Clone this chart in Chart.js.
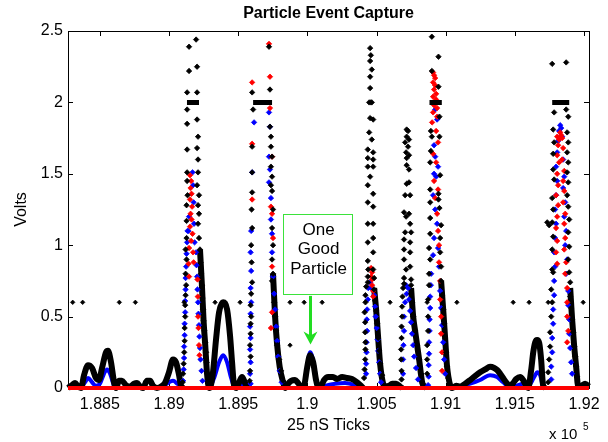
<!DOCTYPE html>
<html>
<head>
<meta charset="utf-8">
<script src="https://cdn.jsdelivr.net/npm/chart.js@4.4.1/dist/chart.umd.min.js"></script>
<style>
  html, body { margin: 0; padding: 0; background: #fff; }
  #wrap { width: 608px; height: 442px; }
</style>
</head>
<body>
<div id="wrap"><canvas id="c" width="608" height="442"></canvas></div>
<script>
// ── Axis setup ───────────────────────────────────────────────
const X_MIN = 188270, X_MAX = 192036;
const xTickVals = [188500, 189000, 189500, 190000, 190500, 191000, 191500, 192000];
const yTickVals = [0, 0.5, 1, 1.5, 2, 2.5];

// ── Low level trace + dense trailing flanks, split at the spikes ──
const blackLowSegs = [
  [[188270,0],[188299,0.02],[188321,0.035],[188342,0.01],[188364,0],[188386,0.09],[188415,0.16],[188444,0.14],
   [188472,0.07],[188494,0.056],[188516,0.14],[188545,0.25],[188559,0.26],[188581,0.18],[188603,0.04],[188617,0],
   [188639,0.05],[188660,0.05],[188689,0.02],[188718,0.01],[188747,0.03],[188769,0.035],[188791,0.01],[188812,0],
   [188841,0.05],[188863,0.05],[188884,0.015],[188913,0],[188949,0.015],[188971,0.035],[189000,0.11],[189029,0.2],
   [189051,0.18],[189073,0.09],[189087,0.015],[189102,0]],
  [[189224,0.97],[189238,0.72],[189250,0.47],[189262,0.3],[189275,0.1],[189290,0],[189300,0.01],[189318,0.11],
   [189340,0.34],[189362,0.53],[189391,0.6],[189420,0.55],[189441,0.37],[189456,0.18],[189470,0.02],[189485,0],
   [189507,0.04],[189528,0.077],[189550,0.035],[189572,0]],
  [[189752,0.8],[189767,0.5],[189782,0.3],[189800,0.15],[189825,0.04],[189839,0],[189861,0.03],[189883,0.05],
   [189911,0.056],[189933,0.035],[189955,0.01],[189977,0.02],[189998,0.14],[190020,0.23],[190042,0.18],
   [190063,0.056],[190078,0.01],[190100,0.015],[190121,0.056],[190150,0.077],[190186,0.077],[190215,0.063],
   [190252,0.077],[190287,0.07],[190323,0.063],[190360,0.04],[190389,0.015],[190403,0]],
  [[190483,0.7],[190498,0.54],[190512,0.35],[190526,0.17],[190548,0.03],[190562,0.01],[190591,0.015],[190613,0.03],
   [190642,0.03],[190671,0.01],[190685,0]],
  [[190750,0.7],[190765,0.5],[190779,0.4],[190808,0.2],[190830,0.04],[190845,0.01],[190859,0]],
  [[190967,0.75],[190982,0.55],[190996,0.35],[191010,0.15],[191032,0.02],[191047,0],[191076,0.015],[191104,0.01],
   [191141,0.03],[191177,0.056],[191213,0.084],[191249,0.11],[191285,0.13],[191321,0.148],[191351,0.14],
   [191372,0.126],[191394,0.1],[191415,0.07],[191445,0.03],[191466,0.01],[191488,0.035],[191510,0.063],
   [191538,0.077],[191560,0.056],[191582,0.015],[191596,0],[191618,0.126],[191633,0.25],[191647,0.32],
   [191661,0.336],[191676,0.315],[191690,0.2],[191704,0.02],[191719,0]],
  [[191900,0.7],[191914,0.48],[191929,0.29],[191943,0.15],[191958,0.01],[191980,0.015],[192008,0.03],[192036,0.01]]
];

const blueLow = [
  [188270,0.01],[188321,0.02],[188357,0],[188393,0.04],[188415,0.07],[188444,0.04],[188472,0.015],[188501,0.03],
  [188530,0.1],[188552,0.13],[188574,0.1],[188603,0.015],[188625,0],[188950,0],[188985,0.03],[189029,0.05],
  [189060,0.03],[189095,0],[189290,0],[189326,0.07],[189362,0.18],[189391,0.23],[189420,0.18],[189449,0.07],
  [189478,0],[189507,0.015],[189536,0.03],[189572,0],[189840,0],[189948,0],[189977,0.015],[189998,0.14],
  [190020,0.25],[190049,0.16],[190071,0.02],[190092,0],[190128,0.015],[190201,0.03],[190273,0.035],[190345,0.02],
  [190396,0],[191047,0],[191104,0.01],[191177,0.03],[191249,0.056],[191321,0.09],[191372,0.077],[191415,0.04],
  [191459,0.01],[191510,0.015],[191560,0.03],[191596,0.01],[191625,0.05],[191647,0.09],[191661,0.11],[191683,0.09],
  [191704,0.01],[191726,0],[192036,0]
];

const redBase = [[188270,0],[192036,0]];

// saturated (clipped at 2 V) stretches
const satRanges = [[189130,189217],[189608,189745],[190883,190972],[191770,191893]];

// trigger level marks
const threshDots = [
  [188304,0.6],[188376,0.6],[188641,0.6],[188757,0.6],[189109,0.6],[189333,0.6],[189514,0.6],[189875,0.6],
  [189977,0.6],[190107,0.6],[190598,0.6],[190866,0.6],[191081,0.6],[191488,0.6],[191603,0.6],[191741,0.6],
  [191994,0.6],[189875,0.3]
];

// ── Raw samples on the spikes ────────────────────────────────
const blackSpikes = [
  // A
  [189145,2.39],[189145,2.22],[189196,2.44],[189203,2.25],[189203,2.07],[189131,2.07],[189131,1.95],[189131,1.85],
  [189203,1.88],[189210,1.76],[189131,1.67],[189203,1.68],[189210,1.6],[189131,1.51],[189210,1.51],[189131,1.45],
  [189203,1.42],[189134,1.35],[189217,1.35],[189127,1.28],[189210,1.28],[189217,1.22],[189127,1.17],[189210,1.15],
  [189127,1.05],[189217,1.05],[189120,0.97],[189224,0.97],[189127,0.9],[189228,0.88],[189120,0.8],[189231,0.8],
  [189124,0.72],[189238,0.72],[189120,0.65],[189242,0.63],[189117,0.58],[189246,0.55],[189117,0.5],[189250,0.47],
  [189113,0.42],[189256,0.4],[189113,0.33],[189262,0.32],[189110,0.25],[189268,0.25],[189106,0.17],[189272,0.18],
  [189102,0.1],[189098,0.04],
  // B
  [189601,2.07],[189723,2.39],[189730,2.09],[189608,1.95],[189601,1.69],[189601,1.51],[189601,1.37],[189597,1.25],
  [189601,1.12],[189594,1.0],[189597,0.88],[189601,0.74],[189594,0.66],[189590,0.58],[189594,0.5],[189590,0.45],
  [189590,0.38],[189586,0.3],[189590,0.22],[189586,0.12],[189583,0.05],[189730,1.83],[189737,1.76],[189737,1.69],
  [189745,1.62],[189737,1.55],[189745,1.48],[189737,1.42],[189745,1.38],[189752,1.25],[189745,1.12],[189752,1.0],
  [189745,0.9],[189752,0.8],[189745,0.75],[189760,0.6],[189767,0.5],[189775,0.4],[189782,0.3],[189796,0.2],
  [189810,0.12],[189825,0.05],
  // C
  [190454,2.38],[190459,2.33],[190454,2.29],[190466,2.23],[190454,2.18],[190454,2.1],[190454,1.89],[190476,1.88],
  [190447,1.79],[190466,1.74],[190437,1.67],[190476,1.65],[190437,1.61],[190476,1.6],[190437,1.55],[190476,1.55],
  [190454,1.48],[190437,1.42],[190476,1.36],[190437,1.3],[190476,1.27],[190437,1.15],[190476,1.15],[190437,1.02],
  [190476,1.05],[190437,0.89],[190476,0.95],[190440,0.83],[190476,0.83],[190437,0.78],[190483,0.77],[190437,0.74],
  [190447,2.0],[190459,2.0],[190466,2.0],
  [190425,0.71],[190420,0.65],[190420,0.6],[190414,0.53],[190418,0.46],[190418,0.39],[190420,0.32],[190420,0.27],
  [190418,0.2],[190414,0.13],[190410,0.07],[190483,0.69],[190490,0.61],[190498,0.54],[190505,0.45],[190512,0.35],
  [190519,0.26],[190526,0.17],[190541,0.09],
  // D
  [190718,1.81],[190728,1.8],[190718,1.76],[190735,1.74],[190707,1.72],[190728,1.69],[190714,1.65],[190735,1.63],
  [190718,1.61],[190718,1.56],[190735,1.53],[190718,1.43],[190735,1.44],[190707,1.35],[190743,1.35],[190699,1.23],
  [190735,1.22],[190714,1.2],[190743,1.15],[190707,1.09],[190750,1.09],[190699,1.04],[190743,1.02],[190699,0.97],
  [190743,0.95],[190699,0.9],[190743,0.85],[190714,0.83],[190699,0.77],[190750,0.76],[190699,0.73],[190750,0.72],
  [190692,0.7],[190688,0.64],[190685,0.57],[190685,0.5],[190681,0.43],[190681,0.35],[190678,0.27],[190678,0.2],
  [190681,0.12],[190681,0.06],[190750,0.66],[190757,0.6],[190765,0.5],[190779,0.4],[190794,0.3],[190808,0.2],
  [190822,0.1],[190835,0.03],
  // E
  [190900,2.46],[190948,2.32],[190900,2.22],[190948,2.11],[190955,1.9],[190893,1.8],[190900,1.76],[190955,1.76],
  [190893,1.66],[190888,1.58],[190960,1.49],[190888,1.39],[190948,1.36],[190888,1.3],[190948,1.32],[190955,1.26],
  [190888,1.19],[190967,1.14],[190888,1.08],[190960,1.05],[190880,0.98],[190960,0.95],[190888,0.9],[190967,0.85],
  [190880,0.8],[190967,0.75],[190880,0.72],[190974,0.65],[190873,0.62],[190982,0.55],[190873,0.5],[190989,0.45],
  [190873,0.4],[190996,0.35],[190866,0.3],[191003,0.25],[190866,0.2],[191010,0.15],[190866,0.1],[191018,0.07],
  [191032,0.02],
  // F
  [191770,2.27],[191871,2.28],[191784,1.93],[191777,1.81],[191784,1.72],[191777,1.64],[191777,1.53],[191784,1.46],
  [191770,1.33],[191777,1.25],[191734,1.16],[191748,1.14],[191770,1.16],[191777,1.06],[191770,0.97],[191770,0.83],
  [191777,0.81],[191763,0.69],[191770,0.6],[191763,0.5],[191755,0.39],[191755,0.29],[191748,0.2],[191741,0.11],
  [191741,0.04],[191871,1.95],[191886,1.9],[191878,1.79],[191886,1.72],[191878,1.65],[191886,1.58],[191878,1.51],
  [191886,1.44],[191878,1.35],[191886,1.27],[191893,1.18],[191886,1.09],[191893,0.99],[191886,0.9],[191893,0.81],
  [191900,0.74],[191900,0.64],[191907,0.56],[191914,0.48],[191922,0.39],[191929,0.29],[191936,0.22],[191943,0.15],
  [191950,0.08],[191958,0.01]
];

const redSpikes = [
  // A
  [189152,1.49],[189160,1.45],[189156,1.4],[189163,1.36],[189152,1.32],[189167,1.27],[189156,1.22],[189163,1.18],
  [189152,1.13],[189170,1.08],[189160,1.03],[189145,0.98],[189174,0.95],[189141,0.87],[189178,0.88],[189145,0.78],
  [189206,0.76],[189208,0.64],[189210,0.5],[189213,0.42],[189217,0.3],[189220,0.23],
  // B
  [189723,2.41],[189730,2.18],[189601,2.14],[189730,1.96],[189601,1.71],[189745,1.62],[189601,1.32],[189737,1.27],
  [189745,1.22],[189752,1.05],[189745,0.85],[189745,0.53],[189737,0.42],
  // C
  [190461,0.84],[190468,0.81],[190461,0.78],[190468,0.76],[190468,0.72],[190476,0.68],[190476,0.64],
  // E
  [190909,2.21],[190916,2.19],[190924,2.17],[190909,2.14],[190924,2.12],[190916,2.09],[190931,2.06],[190909,2.04],
  [190931,2.02],[190916,1.98],[190938,1.96],[190909,1.93],[190938,1.9],[190902,1.86],[190931,1.8],[190945,1.72],
  [190909,1.64],[190931,1.58],[190916,1.45],[190945,1.39],[190924,1.33],[190938,1.22],[190945,1.1],[190952,1.0],
  [190952,0.88],[190960,0.75],[190960,0.62],[190967,0.5],[190967,0.38],[190974,0.25],[190974,0.12],
  // F
  [191806,1.76],[191813,1.7],[191806,1.63],[191820,1.58],[191806,1.5],[191813,1.42],[191798,1.35],[191813,1.28],
  [191806,1.2],[191798,1.12],[191806,1.03],[191798,0.95],[191806,0.87],[191828,1.79],[191835,1.77],[191820,1.74],
  [191842,1.75],[191849,1.68],[191842,1.6],[191857,1.52],[191849,1.45],[191857,1.38],[191849,1.3],[191864,1.22],
  [191857,1.15],[191864,1.05],[191857,0.97],[191871,0.88],[191864,0.8],[191878,0.7],[191878,0.6],[191878,0.5],
  [191886,0.4],[191878,0.32]
];

const blueSpikes = [
  // A
  [189102,0.05],[189106,0.13],[189109,0.21],[189109,0.29],[189113,0.37],[189113,0.45],[189117,0.53],[189117,0.61],
  [189120,0.69],[189120,0.77],[189124,0.85],[189127,0.94],[189131,1.02],[189134,1.1],[189170,1.51],[189174,1.42],
  [189145,1.2],[189178,1.3],[189181,1.15],[189141,1.1],[189185,1.02],[189196,0.95],[189199,0.86],[189203,0.78],
  [189206,0.69],[189210,0.6],[189213,0.52],[189217,0.44],[189220,0.36],[189224,0.28],[189228,0.2],[189235,0.12],
  [189242,0.05],
  // B
  [189615,1.86],[189601,1.51],[189594,1.1],[189590,0.95],[189594,0.82],[189590,0.7],[189594,0.6],[189590,0.52],
  [189586,0.43],[189590,0.35],[189586,0.27],[189590,0.18],[189586,0.1],[189590,0.03],[189723,1.93],[189730,1.83],
  [189723,1.62],[189730,1.53],[189723,1.44],[189737,1.33],[189737,1.18],[189745,1.08],[189745,0.95],[189752,0.78],
  [189760,0.66],[189767,0.55],[189775,0.43],[189782,0.33],[189789,0.22],[189800,0.12],[189815,0.04],
  // C
  [190454,0.74],[190461,0.7],[190440,0.7],[190437,0.62],[190432,0.55],[190430,0.48],[190432,0.4],[190428,0.32],
  [190428,0.25],[190425,0.17],[190425,0.1],[190483,0.65],[190490,0.57],[190494,0.5],[190501,0.42],[190508,0.34],
  [190512,0.26],[190519,0.18],[190526,0.1],[190533,0.04],
  // D
  [190718,0.66],[190714,0.72],[190707,0.6],[190699,0.5],[190699,0.4],[190695,0.3],[190692,0.2],[190692,0.1],
  [190728,0.7],[190735,0.62],[190743,0.54],[190750,0.46],[190757,0.38],[190765,0.3],[190772,0.22],[190786,0.14],
  [190800,0.06],
  // E
  [190924,1.95],[190938,1.88],[190916,1.7],[190924,1.62],[190945,1.55],[190916,1.5],[190931,1.48],[190909,1.35],
  [190924,1.25],[190938,1.15],[190916,1.05],[190945,0.98],[190909,0.93],[190952,0.85],[190895,0.8],[190893,0.72],
  [190888,0.64],[190888,0.56],[190884,0.48],[190884,0.4],[190880,0.32],[190880,0.24],[190877,0.16],[190877,0.08],
  [190873,0.02],[190960,0.68],[190967,0.56],[190974,0.44],[190982,0.32],[190989,0.2],[190996,0.1],
  // F
  [191828,1.84],[191820,1.8],[191835,1.82],[191813,1.73],[191842,1.76],[191806,1.65],[191798,1.55],[191806,1.45],
  [191798,1.35],[191791,1.25],[191798,1.15],[191791,1.05],[191784,0.95],[191791,0.85],[191784,0.75],[191784,0.65],
  [191777,0.55],[191777,0.45],[191770,0.35],[191770,0.25],[191763,0.15],[191763,0.06],[191849,1.6],[191857,1.48],
  [191849,1.4],[191864,1.3],[191857,1.2],[191871,1.1],[191864,1.0],[191878,0.9],[191871,0.8],[191886,0.68],
  [191886,0.58],[191893,0.48],[191893,0.38],[191900,0.28],[191907,0.18],[191914,0.1]
];

// annotation (data coords)
const noteBox  = { x0: 189825, x1: 190323, yTop: 1.22, yBot: 0.66 };
const noteText = ['One', 'Good', 'Particle'];
const noteArrow = { x: 190020, yFrom: 0.645, yTo: 0.305 };

// ── Helpers ──────────────────────────────────────────────────
const pts = arr => arr.map(p => ({ x: p[0], y: p[1] }));
const joinSegs = segs => segs.flatMap(s => [...pts(s), { x: s[s.length - 1][0] + 1, y: null }]);
const satData = satRanges.flatMap(r => [{ x: r[0], y: 2 }, { x: r[1], y: 2 }, { x: r[1] + 1, y: null }]);

const FONT = '"Liberation Sans", Arial, Helvetica, sans-serif';
Chart.defaults.font.family = FONT;
Chart.defaults.color = '#000';

function scatterSet(data, color, r) {
  return {
    type: 'scatter', data: pts(data), showLine: false,
    pointStyle: 'rectRot', pointRadius: r, pointBackgroundColor: color,
    pointBorderColor: color, pointBorderWidth: 0.8, clip: 6
  };
}
function lineSet(data, color, w) {
  return {
    type: 'line', data, borderColor: color, borderWidth: w, pointRadius: 0,
    cubicInterpolationMode: 'monotone', spanGaps: false, fill: false, clip: 6
  };
}

// ── Frame, inward ticks and labels (MATLAB look) ─────────────
const framePlugin = {
  id: 'frame',
  beforeDatasetsDraw(chart) {
    const { ctx, chartArea: a, scales: { x, y } } = chart;
    ctx.save();
    ctx.strokeStyle = '#000';
    ctx.lineWidth = 1;
    ctx.strokeRect(a.left + 0.5, a.top + 0.5, a.right - a.left, a.bottom - a.top);
    ctx.beginPath();
    xTickVals.forEach(v => {
      const px = Math.round(x.getPixelForValue(v)) + 0.5;
      ctx.moveTo(px, a.bottom); ctx.lineTo(px, a.bottom - 5);
      ctx.moveTo(px, a.top); ctx.lineTo(px, a.top + 5);
    });
    yTickVals.forEach(v => {
      const py = Math.round(y.getPixelForValue(v)) + 0.5;
      ctx.moveTo(a.left, py); ctx.lineTo(a.left + 5, py);
      ctx.moveTo(a.right, py); ctx.lineTo(a.right - 5, py);
    });
    ctx.stroke();
    ctx.restore();
  },
  afterDatasetsDraw(chart) {
    const { ctx, scales: { x, y } } = chart;
    const bx0 = x.getPixelForValue(noteBox.x0), bx1 = x.getPixelForValue(noteBox.x1);
    const by0 = y.getPixelForValue(noteBox.yTop), by1 = y.getPixelForValue(noteBox.yBot);
    ctx.save();
    ctx.fillStyle = '#fff';
    ctx.fillRect(bx0, by0, bx1 - bx0, by1 - by0);
    ctx.strokeStyle = '#3be23b';
    ctx.lineWidth = 1;
    ctx.strokeRect(Math.round(bx0) + 0.5, Math.round(by0) + 0.5, Math.round(bx1 - bx0), Math.round(by1 - by0));
    ctx.fillStyle = '#000';
    ctx.font = '17px ' + FONT;
    ctx.textAlign = 'center';
    ctx.textBaseline = 'middle';
    const cx = (bx0 + bx1) / 2 + 1;
    const cy = (by0 + by1) / 2 - 4;
    noteText.forEach((t, i) => ctx.fillText(t, cx, cy + (i - 1) * 19.7));
    // arrow
    const ax = Math.round(x.getPixelForValue(noteArrow.x)) + 0.5;
    const ay0 = y.getPixelForValue(noteArrow.yFrom), ay1 = y.getPixelForValue(noteArrow.yTo);
    ctx.strokeStyle = '#22dd22';
    ctx.fillStyle = '#22dd22';
    ctx.lineWidth = 3;
    ctx.beginPath(); ctx.moveTo(ax, ay0); ctx.lineTo(ax, ay1 - 8); ctx.stroke();
    ctx.beginPath();
    ctx.moveTo(ax, ay1); ctx.lineTo(ax - 7, ay1 - 13); ctx.lineTo(ax, ay1 - 9); ctx.lineTo(ax + 7, ay1 - 13);
    ctx.closePath(); ctx.fill();
    ctx.restore();
  },
  afterDraw(chart) {
    const { ctx, chartArea: a } = chart;
    const cx = (a.left + a.right) / 2;
    ctx.save();
    ctx.fillStyle = '#000';
    ctx.textAlign = 'center';
    ctx.textBaseline = 'middle';
    ctx.font = 'bold 16px ' + FONT;
    ctx.fillText('Particle Event Capture', cx, 14);
    ctx.font = '16px ' + FONT;
    ctx.fillText('25 nS Ticks', cx, 426);
    ctx.save();
    ctx.translate(22, (a.top + a.bottom) / 2);
    ctx.rotate(-Math.PI / 2);
    ctx.fillText('Volts', 0, 0);
    ctx.restore();
    ctx.textAlign = 'left';
    ctx.font = '15px ' + FONT;
    ctx.fillText('x 10', 549, 435);
    ctx.font = '10px ' + FONT;
    ctx.fillText('5', 583, 427);
    ctx.restore();
  }
};

new Chart(document.getElementById('c'), {
  data: {
    datasets: [
      lineSet(pts(redBase), '#ff0000', 4),
      lineSet(satData, '#000', 5),
      scatterSet(threshDots, '#000', 2.2),
      scatterSet(blackSpikes, '#000', 2.7),
      scatterSet(redSpikes, '#ff0000', 2.7),
      scatterSet(blueSpikes, '#0000ff', 2.7),
      lineSet(joinSegs(blackLowSegs), '#000', 6),
      lineSet(pts(blueLow), '#0000ff', 4)
    ]
  },
  options: {
    responsive: false,
    animation: false,
    devicePixelRatio: 1,
    layout: { padding: { top: 31, right: 19, left: 0, bottom: 0 } },
    plugins: { legend: { display: false }, tooltip: { enabled: false }, title: { display: false } },
    scales: {
      x: {
        type: 'linear', min: X_MIN, max: X_MAX,
        afterBuildTicks: s => { s.ticks = xTickVals.map(v => ({ value: v })); },
        afterFit: s => { s.height = 54; },
        grid: { display: false, drawTicks: false },
        border: { display: false },
        ticks: {
          font: { size: 16 }, color: '#000', padding: 7, maxRotation: 0, autoSkip: false,
          callback: v => String(parseFloat((v / 1e5).toFixed(3)))
        }
      },
      y: {
        type: 'linear', min: 0, max: 2.5,
        afterBuildTicks: s => { s.ticks = yTickVals.map(v => ({ value: v })); },
        afterFit: s => { s.width = 68; },
        grid: { display: false, drawTicks: false },
        border: { display: false },
        ticks: { font: { size: 16 }, color: '#000', padding: 5, callback: v => String(v) }
      }
    }
  },
  plugins: [framePlugin]
});
</script>
</body>
</html>
